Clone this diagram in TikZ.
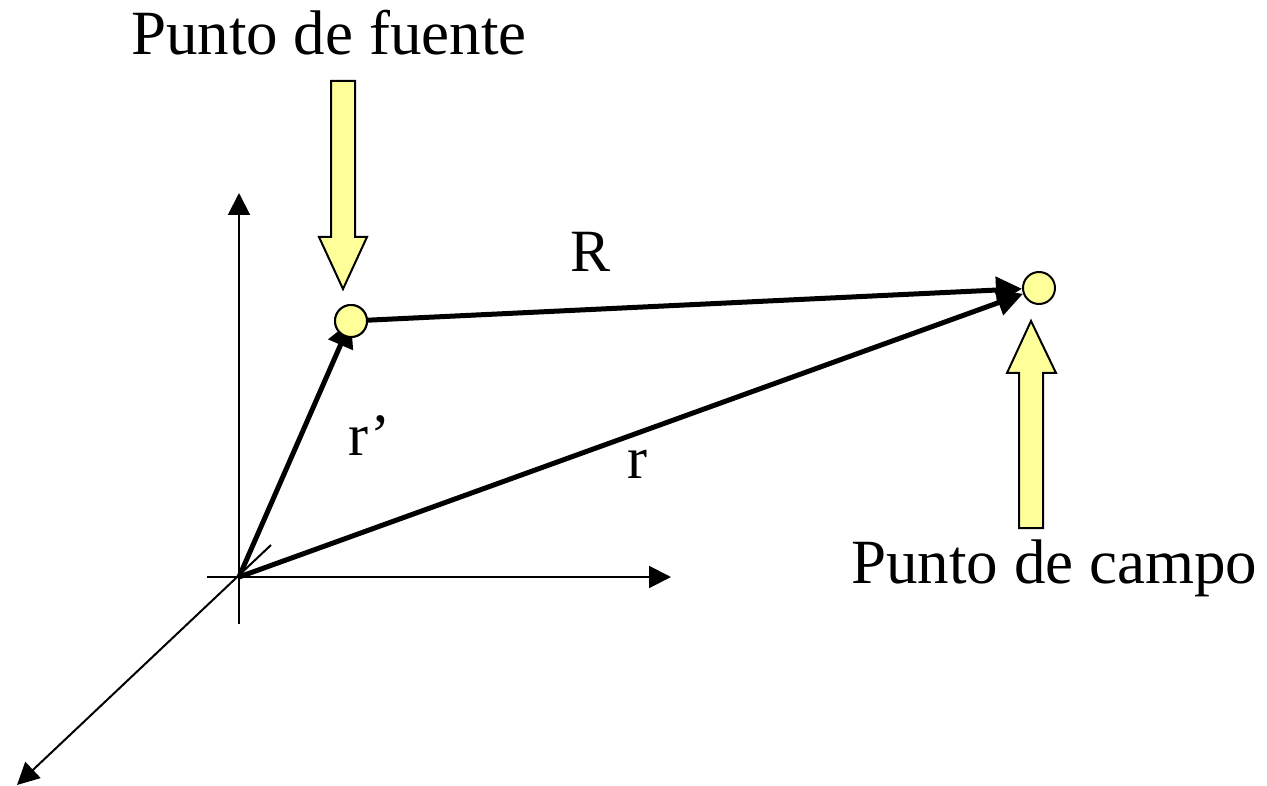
\documentclass[tikz,border=0pt]{standalone}
\usepackage{fontspec}
\setmainfont{Liberation Serif}
\usetikzlibrary{arrows.meta}
\definecolor{ptyellow}{RGB}{255,255,153}
\begin{document}
\begin{tikzpicture}[x=1pt,y=-1pt,
  axis/.style={line width=2pt,-{Triangle[length=22pt,width=22pt]}},
  vec/.style={line width=5pt,-{Triangle[length=26pt,width=26pt]}},
  pt/.style={circle,draw,line width=2pt,fill=ptyellow,minimum size=32pt,inner sep=0pt},
  bigarrow/.style={draw,line width=2pt,fill=ptyellow,line join=miter},
  title/.style={anchor=base west,inner sep=0pt,font=\fontsize{63}{70}\selectfont},
  lbl/.style={anchor=base west,inner sep=0pt,font=\fontsize{60}{66}\selectfont}]
\useasboundingbox (0,0) rectangle (1267,786);
% axes
\coordinate (O) at (239,577);
\coordinate (ztop) at (239,193);
\coordinate (zbot) at (239,624);
\coordinate (xl) at (207,577);
\coordinate (xr) at (671,577);
\coordinate (yu) at (271,545);
\coordinate (yd) at (17,785);
\draw[axis] (zbot) -- (ztop);
\draw[axis] (xl) -- (xr);
\draw[axis] (yu) -- (yd);
% points
\node[pt] (src) at (351,321) {};
\node[pt] (fld) at (1039,288) {};
% vectors
\draw[vec] (O) -- (src.center);
\node[pt] (src2) at (351,321) {};
\draw[vec] (src2) -- (fld);
\draw[vec] (O) -- (fld);
% big yellow arrows
\draw[bigarrow] (331,81) -- (355,81) -- (355,237) -- (367,237) -- (343,289) -- (319,237) -- (331,237) -- cycle;
\draw[bigarrow] (1019,528) -- (1043,528) -- (1043,373) -- (1056,373) -- (1031,321) -- (1007,373) -- (1019,373) -- cycle;
% labels
\node[title] (tf) at (131,55) {Punto de fuente};
\node[title] (tc) at (851,583) {Punto de campo};
\node[lbl] (lR) at (570,272) {R};
\node[lbl] (lrp) at (348,455) {r’};
\node[lbl] (lr) at (627,478) {r};
\end{tikzpicture}
\end{document}
